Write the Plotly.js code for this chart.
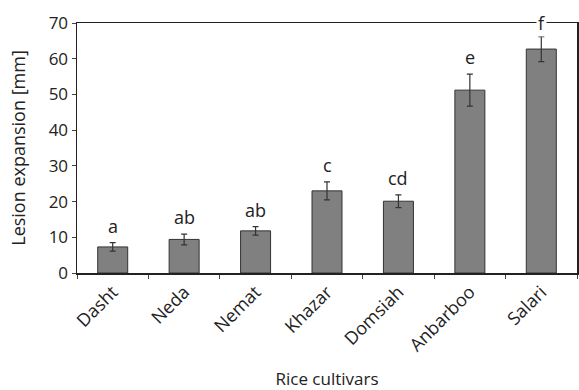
<!DOCTYPE html>
<html>
<head>
<meta charset="utf-8">
<script src="https://cdn.plot.ly/plotly-3.0.1.min.js"></script>
<style>html,body{margin:0;padding:0;background:#fff}#chart{width:579px;height:390px}</style>
</head>
<body>
<div id="chart"></div>
<script>
var cultivars = ["Dasht", "Neda", "Nemat", "Khazar", "Domsiah", "Anbarboo", "Salari"];
var lesion = [7.3, 9.4, 11.8, 23.0, 20.1, 51.2, 62.7];
var errors = [1.2, 1.5, 1.2, 2.5, 1.8, 4.5, 3.5];
var letters = ["a", "ab", "ab", "c", "cd", "e", "f"];
var yTicks = [0, 10, 20, 30, 40, 50, 60, 70];

var font = "Open Sans, Liberation Sans, sans-serif";
var annotations = cultivars.map(function (c, i) {
  var top = lesion[i] + errors[i];
  var onFrame = top + 6 > 70;
  return {
    x: c, y: onFrame ? 70 : top, xref: "x", yref: "y",
    text: letters[i], showarrow: false,
    yanchor: onFrame ? "middle" : "bottom", yshift: onFrame ? 0 : 3,
    bgcolor: onFrame ? "#ffffff" : "rgba(0,0,0,0)",
    borderpad: 1,
    font: {family: font, size: 18, color: "#222"}
  };
});

Plotly.newPlot("chart", [{
  type: "bar",
  x: cultivars,
  y: lesion,
  marker: {color: "#808080", line: {color: "#333", width: 1}},
  error_y: {type: "data", array: errors, visible: true, color: "#333", thickness: 1.2, width: 3}
}], {
  width: 579, height: 390,
  margin: {l: 77, r: 2, t: 23, b: 117},
  paper_bgcolor: "#fff", plot_bgcolor: "#fff",
  bargap: 0.58,
  showlegend: false,
  font: {family: font, color: "#222"},
  xaxis: {
    type: "category",
    tickangle: -45,
    tickson: "boundaries",
    ticks: "outside", ticklen: 4, tickcolor: "#444", tickwidth: 1,
    showline: true, linecolor: "#222", linewidth: 1.5, mirror: true,
    showgrid: false, zeroline: false,
    tickfont: {family: font, size: 18, color: "#222"},
    title: {text: "Rice cultivars", font: {family: font, size: 17, color: "#222"}, standoff: 24}
  },
  yaxis: {
    range: [0, 70],
    tickvals: yTicks,
    ticktext: yTicks.map(String),
    ticks: "outside", ticklen: 4, tickcolor: "#444", tickwidth: 1,
    showline: true, linecolor: "#222", linewidth: 1.5, mirror: true,
    showgrid: false, zeroline: false,
    tickfont: {family: font, size: 17, color: "#222"},
    title: {text: "Lesion expansion [mm]", font: {family: font, size: 18, color: "#222"}, standoff: 18}
  },
  annotations: annotations
}, {displayModeBar: false, staticPlot: true});
</script>
</body>
</html>
